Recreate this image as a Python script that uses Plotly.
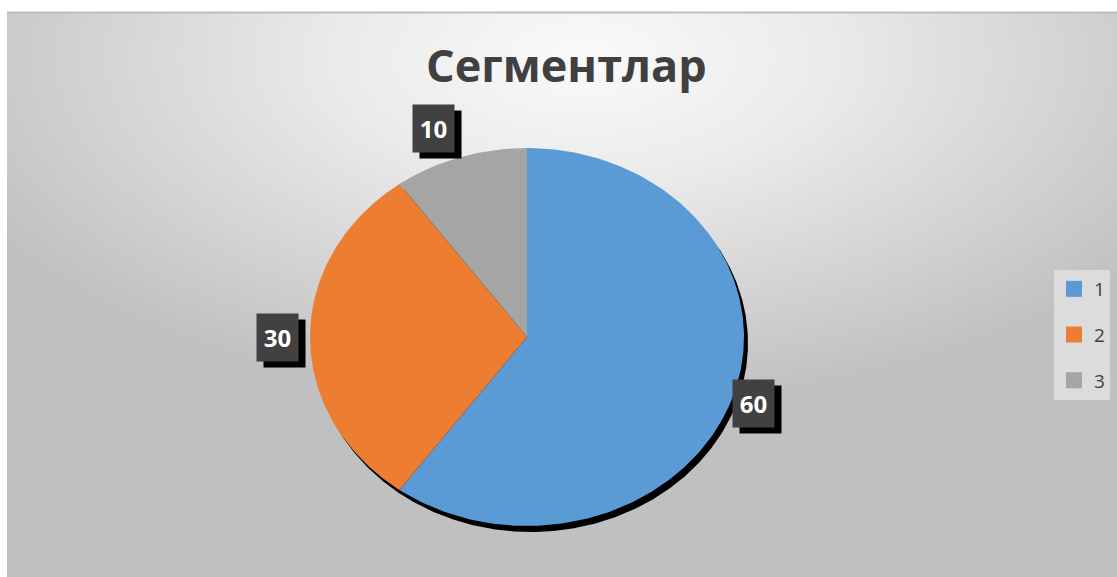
import base64
import numpy as np
import plotly.graph_objects as go

# ---- data ----
categories = ["1", "2", "3"]
values = [60, 30, 10]
title_text = "Сегментлар"

# ---- style ----
colors = ["#5B9BD5", "#ED7D31", "#A5A5A5"]
label_factors = [(1.097, 1.14), (1.15, 1.0), (1.40, 1.16)]

W, H = 1117, 577
CX, CY, RX, RY = 527, 337, 217, 189
SHX, SHY = 4, 6

fig = go.Figure()

# pie shadow
t = np.linspace(0, 2 * np.pi, 721)
fig.add_trace(go.Scatter(
    x=CX + SHX + RX * np.sin(t), y=CY + SHY - RY * np.cos(t),
    mode="lines", fill="toself", fillcolor="#000000",
    line=dict(width=0, color="#000000"), hoverinfo="skip", showlegend=False))

total = float(sum(values))
cum = np.concatenate([[0.0], np.cumsum(values)])
mids = []
for i, (cat, v) in enumerate(zip(categories, values)):
    a0 = 2 * np.pi * cum[i] / total
    a1 = 2 * np.pi * cum[i + 1] / total
    n = max(4, int(400 * v / total))
    a = np.linspace(a0, a1, n)
    xs = np.concatenate([[CX], CX + RX * np.sin(a), [CX]])
    ys = np.concatenate([[CY], CY - RY * np.cos(a), [CY]])
    fig.add_trace(go.Scatter(
        x=xs, y=ys, mode="lines", fill="toself", fillcolor=colors[i],
        line=dict(width=0, color=colors[i]), hoverinfo="skip", showlegend=False))
    mids.append((a0 + a1) / 2)

# legend entries
for i, cat in enumerate(categories):
    fig.add_trace(go.Scatter(
        x=[None], y=[None], mode="markers", name=cat, legendgroup=cat,
        marker=dict(symbol="square", size=16, color=colors[i])))

# data labels
annotations = []
for i, v in enumerate(values):
    m = mids[i]
    kx, ky = label_factors[i]
    lx = CX + RX * np.sin(m) * kx
    ly = CY - RY * np.cos(m) * ky
    common = dict(x=lx, y=ly, xref="x", yref="y", showarrow=False,
                  width=41, height=47, borderpad=0,
                  align="center", valign="middle",
                  xanchor="center", yanchor="middle")
    annotations.append(dict(common, text=" ", bgcolor="#000000",
                            font=dict(family="Open Sans", size=24, color="#000000"),
                            xshift=7, yshift=-6))
    annotations.append(dict(common, text=f"<b>{v}</b>", bgcolor="#414141",
                            font=dict(family="Open Sans", size=24, color="#FFFFFF")))

annotations.append(dict(x=566, y=64, xref="x", yref="y", showarrow=False,
                        text=f"<b>{title_text}</b>",
                        font=dict(family="Open Sans", size=45, color="#404040"),
                        xanchor="center", yanchor="middle"))

svg = ('<svg xmlns="http://www.w3.org/2000/svg" width="1110" height="565" '
       'viewBox="0 0 1110 565" preserveAspectRatio="none"><defs>'
       '<radialGradient id="g" cx="0.52" cy="0.08" r="0.62" fx="0.52" fy="0.08">'
       '<stop offset="0" stop-color="#fafafa"/>'
       '<stop offset="0.35" stop-color="#ebebeb"/>'
       '<stop offset="1" stop-color="#c0c0c0"/>'
       '</radialGradient></defs>'
       '<rect width="1110" height="565" fill="url(#g)"/></svg>')
src = "data:image/svg+xml;base64," + base64.b64encode(svg.encode()).decode()

fig.update_layout(
    width=W, height=H,
    margin=dict(l=0, r=0, t=0, b=0),
    paper_bgcolor="#FFFFFF", plot_bgcolor="rgba(0,0,0,0)",
    xaxis=dict(range=[0, W], visible=False, fixedrange=True),
    yaxis=dict(range=[H, 0], visible=False, fixedrange=True),
    images=[dict(source=src, xref="paper", yref="paper",
                 x=7 / W, y=1 - 12 / H, sizex=1110 / W, sizey=565 / H,
                 xanchor="left", yanchor="top", sizing="stretch", layer="below")],
    shapes=[dict(type="line", xref="x", yref="y", x0=7, x1=W, y0=12.5, y1=12.5,
                 line=dict(color="#bdbdbd", width=2))],
    annotations=annotations,
    showlegend=True,
    legend=dict(x=1054 / W, y=1 - 270 / H, xanchor="left", yanchor="top",
                bgcolor="#dcdcdc", traceorder="grouped", tracegroupgap=18,
                font=dict(family="Open Sans", size=19, color="#404040")),
)

fig.write_html("out.html", config={"displayModeBar": False},
               post_script="document.body.style.margin='0';document.body.style.overflow='hidden';")
